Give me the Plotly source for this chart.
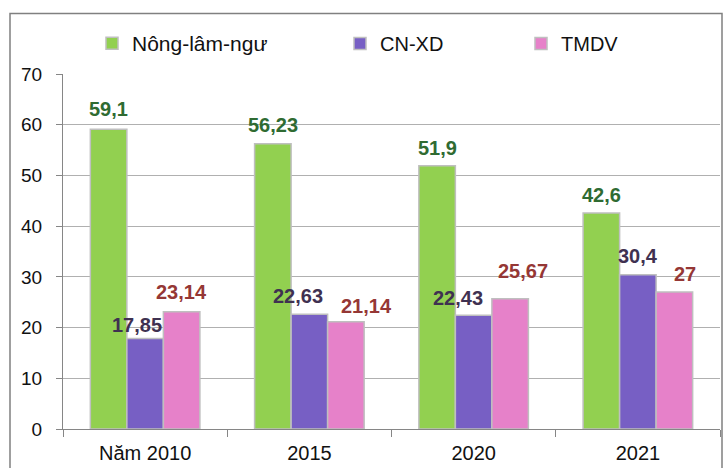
import plotly.graph_objects as go

categories = ["Năm 2010", "2015", "2020", "2021"]
nong_lam_ngu = [59.1, 56.23, 51.9, 42.6]
cn_xd = [17.85, 22.63, 22.43, 30.4]
tmdv = [23.14, 21.14, 25.67, 27]
series_names = ["Nông-lâm-ngư", "CN-XD", "TMDV"]

# style
bar_colors = ["#92D050", "#775FC4", "#E681C9"]
label_colors = ["#2F6B32", "#3F3151", "#953735"]
# per-label pixel nudges (dx, dy) relative to bar top centre
label_dx = [[0, 0, 0, 0], [-8, -11, -16, 0], [0, 21, 13, 11]]
label_dy = [[20, 19, 18, 18], [13, 18, 17, 19], [20, 16, 28, 18]]

FONT = "Liberation Sans, Arial, sans-serif"
W, H = 724, 468
L, R, T, B = 63, 4, 73.5, 39
PW, PH = W - L - R, H - T - B
bargap = 0.333

def px_x(px):
    return (px - L) / PW

def px_y(py):
    return (H - B - py) / PH

series = [nong_lam_ngu, cn_xd, tmdv]
fig = go.Figure()
legend_names = ["legend2", "legend3", "legend4"]
legend_left = [92, 340, 521]
for k, (name, vals) in enumerate(zip(series_names, series)):
    fig.add_trace(go.Bar(
        x=categories, y=vals, name=name, showlegend=True,
        marker=dict(color=bar_colors[k], line=dict(color="#BFBFBF", width=1.5)),
        legend=legend_names[k],
    ))

bw = (1 - bargap) / 3
for k, vals in enumerate(series):
    for i, v in enumerate(vals):
        fig.add_annotation(
            x=i + (k - 1) * bw, y=v, xref="x", yref="y",
            text=f"{v:g}".replace(".", ","), showarrow=False,
            xanchor="center", yanchor="middle",
            xshift=label_dx[k][i], yshift=label_dy[k][i],
            font=dict(family=FONT, size=20, color=label_colors[k], weight="bold"),
        )

# outer chart border
fig.add_shape(type="rect", xref="paper", yref="paper",
              x0=px_x(10), x1=px_x(722), y0=px_y(480), y1=px_y(13),
              line=dict(color="#808080", width=1.5), fillcolor="rgba(0,0,0,0)", layer="below")

legend_common = dict(orientation="h", yanchor="middle", xanchor="left",
                     font=dict(family=FONT, size=20, color="#111111"),
                     bgcolor="rgba(0,0,0,0)", borderwidth=0)
legends = {ln: dict(x=px_x(lx), y=px_y(43), **legend_common)
           for ln, lx in zip(legend_names, legend_left)}
legends["legend2"]["font"] = dict(family=FONT, size=21, color="#111111")
fig.update_layout(
    width=W, height=H,
    margin=dict(l=L, r=R, t=T, b=B, pad=0),
    paper_bgcolor="white", plot_bgcolor="white",
    barmode="group", bargap=bargap, bargroupgap=0,
    font=dict(family=FONT, color="#111111"),
    xaxis=dict(type="category", showline=True, linecolor="#868686", linewidth=1,
               ticks="outside", tickson="boundaries", ticklen=7, tickcolor="#868686",
               tickfont=dict(family=FONT, size=20, color="#111111"),
               showgrid=False, ticklabelstandoff=6),
    yaxis=dict(range=[0, 70], dtick=10, showline=True, linecolor="#868686", linewidth=1,
               ticks="outside", ticklen=6, tickcolor="#868686",
               showgrid=True, gridcolor="#B0B0B0", gridwidth=1, zeroline=False,
               tickfont=dict(family=FONT, size=19, color="#111111"),
               ticklabelstandoff=10),
    **legends,
)

fig.write_html("out.html", config={"displayModeBar": False},
               post_script="document.body.style.margin='0';")
